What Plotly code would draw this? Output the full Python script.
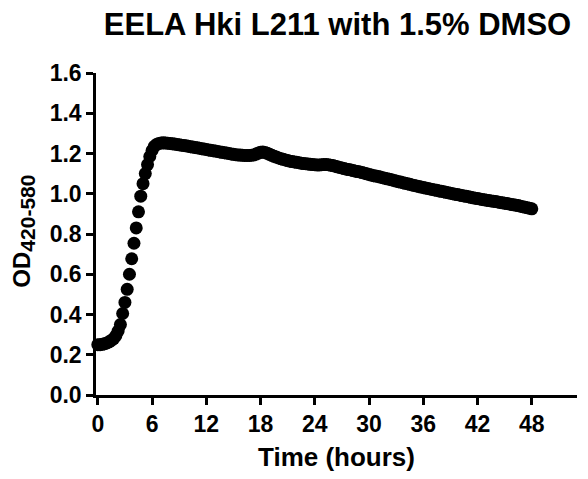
import plotly.graph_objects as go

# OD readings every 15 minutes (0 .. 48 h)
TITLE = "EELA Hki L211 with 1.5% DMSO"
X_LABEL = "Time (hours)"
Y_LABEL_MAIN = "OD"
Y_LABEL_SUB = "420-580"
x_ticks = [0, 6, 12, 18, 24, 30, 36, 42, 48]
y_ticks = [0.0, 0.2, 0.4, 0.6, 0.8, 1.0, 1.2, 1.4, 1.6]

od = [
    0.250, 0.250, 0.252, 0.255,   # 0 h
    0.259, 0.264, 0.271, 0.280,   # 1 h
    0.295, 0.318, 0.350, 0.405,   # 2 h
    0.460, 0.525, 0.600, 0.677,   # 3 h
    0.754, 0.830, 0.910, 0.988,   # 4 h
    1.050, 1.100, 1.145, 1.185,   # 5 h
    1.215, 1.235, 1.245, 1.250,   # 6 h
    1.252, 1.253, 1.252, 1.251,   # 7 h
    1.250, 1.248, 1.247, 1.245,   # 8 h
    1.243, 1.241, 1.240, 1.238,   # 9 h
    1.236, 1.234, 1.232, 1.230,   # 10 h
    1.228, 1.226, 1.224, 1.222,   # 11 h
    1.220, 1.218, 1.216, 1.214,   # 12 h
    1.212, 1.210, 1.208, 1.206,   # 13 h
    1.204, 1.202, 1.200, 1.198,   # 14 h
    1.196, 1.194, 1.193, 1.192,   # 15 h
    1.191, 1.190, 1.190, 1.190,   # 16 h
    1.191, 1.193, 1.197, 1.202,   # 17 h
    1.206, 1.207, 1.205, 1.201,   # 18 h
    1.196, 1.191, 1.186, 1.182,   # 19 h
    1.178, 1.174, 1.171, 1.168,   # 20 h
    1.165, 1.162, 1.160, 1.158,   # 21 h
    1.156, 1.154, 1.152, 1.150,   # 22 h
    1.149, 1.148, 1.146, 1.145,   # 23 h
    1.144, 1.143, 1.143, 1.144,   # 24 h
    1.145, 1.145, 1.144, 1.142,   # 25 h
    1.140, 1.137, 1.134, 1.131,   # 26 h
    1.128, 1.125, 1.122, 1.120,   # 27 h
    1.118, 1.115, 1.112, 1.110,   # 28 h
    1.108, 1.105, 1.102, 1.099,   # 29 h
    1.096, 1.093, 1.090, 1.088,   # 30 h
    1.086, 1.083, 1.080, 1.077,   # 31 h
    1.074, 1.072, 1.069, 1.066,   # 32 h
    1.063, 1.060, 1.058, 1.055,   # 33 h
    1.052, 1.050, 1.047, 1.044,   # 34 h
    1.041, 1.039, 1.036, 1.033,   # 35 h
    1.031, 1.028, 1.026, 1.024,   # 36 h
    1.021, 1.019, 1.017, 1.014,   # 37 h
    1.012, 1.010, 1.007, 1.005,   # 38 h
    1.003, 1.000, 0.998, 0.996,   # 39 h
    0.994, 0.991, 0.989, 0.987,   # 40 h
    0.985, 0.982, 0.980, 0.978,   # 41 h
    0.976, 0.974, 0.972, 0.970,   # 42 h
    0.968, 0.966, 0.964, 0.963,   # 43 h
    0.961, 0.959, 0.957, 0.955,   # 44 h
    0.953, 0.951, 0.949, 0.947,   # 45 h
    0.945, 0.943, 0.941, 0.938,   # 46 h
    0.936, 0.933, 0.931, 0.928,   # 47 h
    0.925,                        # 48 h
]
# sampling grid of the plate reader: one reading every 0.25 h
time_h = [i * 0.25 for i in range(len(od))]

FONT = "Liberation Sans, Arial, sans-serif"

fig = go.Figure()
fig.add_trace(go.Scatter(
    x=time_h, y=od, mode="markers",
    marker=dict(color="black", size=13, line=dict(width=0)),
    cliponaxis=False, showlegend=False,
))

fig.update_layout(
    width=588, height=479,
    margin=dict(l=96, r=11, t=73, b=82),
    paper_bgcolor="white", plot_bgcolor="white",
    font=dict(family=FONT, color="black"),
    title=dict(text=TITLE, x=0.574, xanchor="center", y=1 - 24 / 479, yanchor="middle",
               yref="container",
               font=dict(family=FONT, size=31, color="black", weight="bold")),
)
fig.add_annotation(
    text=f'{Y_LABEL_MAIN}<sub><span style="font-size:21px">{Y_LABEL_SUB}</span></sub>',
    textangle=-90, xref="paper", yref="paper", x=-0.15, y=0.51,
    xanchor="center", yanchor="middle", showarrow=False,
    font=dict(family=FONT, size=24, color="black", weight="bold"),
)
fig.update_xaxes(
    range=[-0.2, 53.0], tickvals=x_ticks, ticktext=[str(v) for v in x_ticks],
    showgrid=False, zeroline=False, showline=True, linecolor="black", linewidth=2.5,
    ticks="outside", ticklen=7, tickwidth=2.5, tickcolor="black",
    tickfont=dict(family=FONT, size=23, color="black", weight="bold"),
    title=dict(text=X_LABEL, standoff=12,
               font=dict(family=FONT, size=26, color="black", weight="bold")),
)
fig.update_yaxes(
    range=[0, 1.6], tickvals=y_ticks, ticktext=[f"{v:.1f}" for v in y_ticks],
    showgrid=False, zeroline=False, showline=True, linecolor="black", linewidth=2.5,
    ticks="outside", ticklen=7, tickwidth=2.5, tickcolor="black",
    tickfont=dict(family=FONT, size=23, color="black", weight="bold"),
)

fig.write_html("out.html")
